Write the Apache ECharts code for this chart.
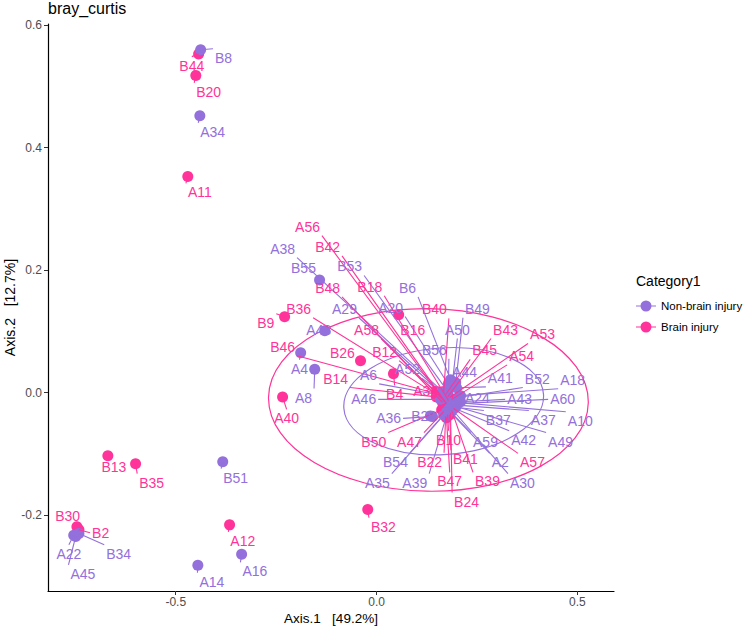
<!DOCTYPE html>
<html><head><meta charset="utf-8">
<script src="https://cdn.jsdelivr.net/npm/echarts@6/dist/echarts.min.js"></script>
<style>html,body{margin:0;padding:0;background:#fff}#c{width:744px;height:627px}</style>
</head><body><div id="c"></div>
<script>
// ---------------- data ----------------
const groups = ["Non-brain injury", "Brain injury"];
const groupColors = ["#9370DB", "#FF3399"];

const nonBrainNames = ["A38","B53","A29","A20","B6","B49","A50","B56","A44","A41","B52","A18","A24","A43","A60","A10","A37","B37","A49","A42","A30","A2","A59","A36","B28","A46","A6","A52","B54","A35","A39","B55","A48","A4","A8","B51","A14","A16","A22","A45","B34","B8","A34"];
const nonBrainAxis1 = [0.172,0.177,0.174,0.184,0.189,0.197,0.189,0.179,0.184,0.199,0.204,0.209,0.204,0.209,0.201,0.197,0.192,0.197,0.189,0.184,0.189,0.182,0.179,0.139,0.134,0.159,0.167,0.164,0.167,0.172,0.174,-0.142,-0.129,-0.189,-0.154,-0.383,-0.445,-0.336,-0.754,-0.749,-0.741,-0.438,-0.440];
const nonBrainAxis2 = [-0.003,0.002,-0.008,0.008,0.013,0.016,0.018,0.015,0.021,0.008,-0.008,-0.005,-0.011,-0.015,-0.018,-0.016,-0.020,-0.024,-0.021,-0.023,-0.028,-0.031,-0.028,-0.039,-0.038,-0.011,-0.005,0.000,-0.036,-0.033,-0.038,0.184,0.101,0.065,0.038,-0.113,-0.282,-0.264,-0.233,-0.235,-0.230,0.560,0.452];
const nonBrainLabel1 = [-0.234,-0.067,-0.080,0.035,0.077,0.251,0.201,0.144,0.219,0.308,0.400,0.488,0.251,0.356,0.463,0.507,0.415,0.303,0.458,0.366,0.363,0.308,0.271,0.030,0.117,-0.032,-0.020,0.077,0.047,0.002,0.095,-0.182,-0.144,-0.192,-0.182,-0.351,-0.410,-0.303,-0.766,-0.731,-0.642,-0.381,-0.408];
const nonBrainLabel2 = [0.235,0.206,0.137,0.139,0.171,0.137,0.103,0.070,0.034,0.024,0.023,0.021,-0.008,-0.011,-0.011,-0.046,-0.044,-0.044,-0.080,-0.077,-0.147,-0.114,-0.080,-0.042,-0.039,-0.011,0.029,0.038,-0.113,-0.147,-0.147,0.204,0.103,0.039,-0.008,-0.139,-0.309,-0.292,-0.263,-0.296,-0.263,0.547,0.426];

const brainNames = ["A56","B42","B48","B18","B36","A58","B40","B43","A53","B45","A54","B12","B46","B14","A32","B50","A47","B10","B22","B41","B47","B24","B39","A57","B9","B16","B26","B4","A40","B32","B13","B35","A12","B30","B2","B44","B20","A11"];
const brainAxis1 = [0.169,0.174,0.164,0.179,0.159,0.162,0.167,0.177,0.182,0.172,0.187,0.152,0.157,0.149,0.149,0.162,0.167,0.177,0.172,0.182,0.174,0.184,0.187,0.192,-0.229,0.055,-0.040,0.042,-0.234,-0.022,-0.669,-0.600,-0.366,-0.746,-0.741,-0.443,-0.450,-0.470];
const brainAxis2 = [-0.015,-0.018,-0.016,-0.013,-0.007,-0.010,0.002,-0.007,-0.008,-0.003,-0.011,0.000,-0.003,-0.007,0.002,-0.028,-0.031,-0.036,-0.039,-0.036,-0.041,-0.033,-0.029,-0.026,0.124,0.127,0.052,0.031,-0.007,-0.191,-0.103,-0.116,-0.216,-0.219,-0.224,0.553,0.518,0.353];
const brainLabel1 = [-0.172,-0.122,-0.122,-0.017,-0.194,-0.025,0.144,0.321,0.413,0.269,0.361,0.020,-0.234,-0.102,0.122,-0.007,0.082,0.179,0.132,0.221,0.182,0.224,0.276,0.388,-0.276,0.090,-0.085,0.045,-0.224,0.017,-0.654,-0.560,-0.333,-0.769,-0.687,-0.460,-0.418,-0.440];
const brainLabel2 = [0.271,0.238,0.171,0.173,0.137,0.103,0.136,0.103,0.095,0.069,0.060,0.067,0.075,0.023,0.002,-0.080,-0.080,-0.077,-0.113,-0.109,-0.145,-0.178,-0.145,-0.114,0.114,0.103,0.064,-0.003,-0.042,-0.219,-0.121,-0.147,-0.242,-0.202,-0.229,0.534,0.491,0.327];

// 95% ellipses (order: Non-brain injury, Brain injury)
const ellipseCenter1 = [0.167, 0.129];
const ellipseCenter2 = [-0.014, -0.012];
const ellipseRadius1 = [0.249, 0.398];
const ellipseRadius2 = [0.087, 0.149];
const ellipseAngleDeg = [4, -1];

const xTicks = [-0.5, 0, 0.5];
const yTicks = [-0.2, 0, 0.2, 0.4, 0.6];

// ---------------- chart ----------------
const FONT = '"Liberation Sans", Arial, Helvetica, sans-serif';
const LABEL_SIZE = 14;
const mctx = document.createElement('canvas').getContext('2d');
mctx.font = LABEL_SIZE + 'px ' + FONT;
function textW(t){ return mctx.measureText(t).width; }

const sets = [
  {names: nonBrainNames, a1: nonBrainAxis1, a2: nonBrainAxis2, l1: nonBrainLabel1, l2: nonBrainLabel2},
  {names: brainNames, a1: brainAxis1, a2: brainAxis2, l1: brainLabel1, l2: brainLabel2}
];

function rows(s){ return s.names.map((n,i)=>[s.a1[i], s.a2[i], s.l1[i], s.l2[i], n]); }

function segRender(color){
  return function(params, api){
    const p = api.coord([api.value(0), api.value(1)]);
    const l = api.coord([api.value(2), api.value(3)]);
    const name = api.value(4);
    const w = textW(name), h = LABEL_SIZE, pad = 2;
    const x0 = l[0]-w/2-pad, x1 = l[0]+w/2+pad, y0 = l[1]-h/2-pad, y1 = l[1]+h/2+pad;
    if (p[0] > x0 && p[0] < x1 && p[1] > y0 && p[1] < y1) return null;
    const c = [[x0,y0],[l[0],y0],[x1,y0],[x0,l[1]],[x1,l[1]],[x0,y1],[l[0],y1],[x1,y1]];
    let best = null, bd = Infinity;
    c.forEach(q=>{ const d = Math.hypot(q[0]-p[0], q[1]-p[1]); if (d < bd){ bd = d; best = q; } });
    if (bd < 7) return null;
    return {type:'line', shape:{x1:p[0], y1:p[1], x2:best[0], y2:best[1]}, style:{stroke: color, lineWidth: 1.1}};
  };
}
function labelRender(color){
  return function(params, api){
    const l = api.coord([api.value(2), api.value(3)]);
    return {type:'text', x: l[0], y: l[1], style:{text: api.value(4), fill: color, fontSize: LABEL_SIZE, fontFamily: FONT, align:'center', verticalAlign:'middle'}};
  };
}
function ellipseRender(params, api){
  const gi = params.dataIndex;
  const c = api.coord([api.value(0), api.value(1)]);
  const rx = api.size([api.value(2), 0])[0];
  const ry = api.size([0, api.value(3)])[1];
  return {type:'ellipse', x: c[0], y: c[1], rotation: api.value(4)*Math.PI/180,
    shape:{cx:0, cy:0, rx: rx, ry: ry},
    style:{fill:'none', stroke: groupColors[gi], lineWidth: 1.2}};
}

const ellipseData = groups.map((g,i)=>[ellipseCenter1[i], ellipseCenter2[i], ellipseRadius1[i], ellipseRadius2[i], ellipseAngleDeg[i]]);

const legendIcon = 'path://M0,4.9H20V6.1H0Z M4.5,5.5A5.5,5.5,0,1,1,15.5,5.5A5.5,5.5,0,1,1,4.5,5.5Z';

const series = [
  {type:'custom', name:'ellipses', renderItem: ellipseRender, data: ellipseData, encode:{x:0, y:1}, z:1, silent:true, clip:false},
  // Brain injury points first, then Non-brain injury on top
  {type:'scatter', name: groups[1], data: rows(sets[1]).map(r=>[r[0], r[1]]), symbolSize: 11, itemStyle:{color: groupColors[1], opacity:1}, z:2, silent:true},
  {type:'scatter', name: groups[0], data: rows(sets[0]).map(r=>[r[0], r[1]]), symbolSize: 11, itemStyle:{color: groupColors[0], opacity:1}, z:2, silent:true},
];
[0,1].forEach(g=>{
  series.push({type:'custom', name: groups[g]+'-seg', renderItem: segRender(groupColors[g]), data: rows(sets[g]), encode:{x:0, y:1}, z:3, silent:true, clip:false});
});
[0,1].forEach(g=>{
  series.push({type:'custom', name: groups[g]+'-lab', renderItem: labelRender(groupColors[g]), data: rows(sets[g]), encode:{x:2, y:3}, z:4, silent:true, clip:false});
});

const chart = echarts.init(document.getElementById('c'), null, {renderer:'svg'});
chart.setOption({
  animation: false,
  backgroundColor: '#ffffff',
  textStyle: {fontFamily: FONT},
  title: [
    {text: 'bray_curtis', left: 48, top: 0, padding: 0, textStyle:{fontSize: 16, fontWeight:'normal', color:'#000', fontFamily: FONT}},
    {text: 'Category1', left: 636, top: 274, padding: 0, textStyle:{fontSize: 14, fontWeight:'normal', color:'#000', fontFamily: FONT}}
  ],
  legend: {
    data: groups, orient:'vertical', left: 636, top: 300, itemWidth: 20, itemHeight: 11, itemGap: 9,
    icon: legendIcon, padding: 0,
    textStyle:{fontSize: 11.5, color:'#000', fontFamily: FONT},
    selectedMode: false
  },
  grid: {left: 48, right: 130, top: 24, bottom: 36, containLabel: false, outerBoundsMode: 'none'},
  xAxis: {
    type:'value', min: -0.818, max: 0.591,
    name: 'Axis.1   [49.2%]', nameLocation:'middle', nameGap: 20, nameMoveOverlap: false,
    nameTextStyle:{fontSize: 13.5, color:'#000', fontFamily: FONT},
    axisLine:{show:true, onZero:false, lineStyle:{color:'#000', width:1.2}},
    axisTick:{show:true, length:4, lineStyle:{color:'#333'}, customValues: xTicks},
    axisLabel:{customValues: xTicks, formatter: v=>v.toFixed(1), fontSize: 12, color:'#4D4D4D', margin: 5},
    splitLine:{show:false}
  },
  yAxis: {
    type:'value', min: -0.324, max: 0.602,
    name: 'Axis.2   [12.7%]', nameLocation:'middle', nameGap: 31, nameRotate: 90, nameMoveOverlap: false,
    nameTextStyle:{fontSize: 14, color:'#000', fontFamily: FONT},
    axisLine:{show:true, onZero:false, lineStyle:{color:'#000', width:1.2}},
    axisTick:{show:true, length:4, lineStyle:{color:'#333'}, customValues: yTicks},
    axisLabel:{customValues: yTicks, formatter: v=>v.toFixed(1), fontSize: 12, color:'#4D4D4D', margin: 6},
    splitLine:{show:false}
  },
  series: series
});
</script>
</body></html>
